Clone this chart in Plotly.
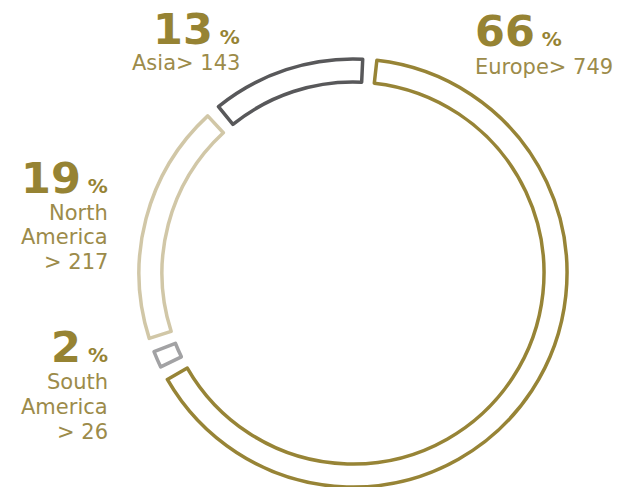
import plotly.graph_objects as go

# ---- data ----
categories = ["Europe", "South America", "North America", "Asia"]
values = [749, 26, 217, 143]
label_templates = [
    ["Europe> {v}"],
    ["South", "America", "> {v}"],
    ["North", "America", "> {v}"],
    ["Asia> {v}"],
]
seg_colors = ["#978436", "#a2a2a4", "#d1c7a7", "#58585a"]

# ---- layout constants ----
W, H = 622, 487
CX, CY, R_OUT, R_IN = 353, 273, 214, 191
GAP_DEG = 3.8
ROT = 4.5
NUM_COLOR = "#968333"
LBL_COLOR = "#9c8b4a"
NUM_FONT = "DejaVu Sans"
LBL_FONT = "DejaVu Sans"
NUM_SIZE = 43
PCT_SIZE = 20
LBL_SIZE = 21

total = sum(values)
pcts = [round(v * 100 / total) for v in values]
g = total * GAP_DEG / 360.0

pie_vals, pie_fill, pie_line, pie_lw = [], [], [], []
pie_vals.append(g / 2); pie_fill.append("rgba(0,0,0,0)"); pie_line.append("rgba(0,0,0,0)"); pie_lw.append(0)
for i, v in enumerate(values):
    pie_vals.append(v - g); pie_fill.append("white"); pie_line.append(seg_colors[i]); pie_lw.append(3.5)
    gv = g if i < len(values) - 1 else g / 2
    pie_vals.append(gv); pie_fill.append("rgba(0,0,0,0)"); pie_line.append("rgba(0,0,0,0)"); pie_lw.append(0)

fig = go.Figure(go.Pie(
    values=pie_vals,
    sort=False,
    direction="clockwise",
    rotation=ROT,
    hole=R_IN / R_OUT,
    textinfo="none",
    hoverinfo="skip",
    showlegend=False,
    marker=dict(colors=pie_fill, line=dict(color=pie_line, width=pie_lw)),
    domain=dict(x=[(CX - R_OUT) / W, (CX + R_OUT) / W],
                y=[1 - (CY + R_OUT) / H, 1 - (CY - R_OUT) / H]),
))

# label placement: (xanchor, block x, number-line cy, label line cys)
place = [
    ("left", 474, 31, [67.5]),
    ("right", 109, 347, [382, 407, 432]),
    ("right", 109, 178, [212.5, 237, 262]),
    ("right", 241, 29, [63.5]),
]

anns = []
def ann(text, px, py, size, xanchor, color):
    anns.append(dict(x=px / W, y=1 - py / H, xref="paper", yref="paper",
                     text=text, showarrow=False,
                     xanchor=xanchor, yanchor="middle", borderpad=0,
                     font=dict(family=LBL_FONT, size=size, color=color)))

for i, (xa, bx, ny, lys) in enumerate(place):
    head = (f"<b>{pcts[i]}</b><span style='font-size:{PCT_SIZE}px'><b> %</b></span>")
    ann(head, bx, ny, NUM_SIZE, xa, NUM_COLOR)
    for line, ly in zip(label_templates[i], lys):
        ann(line.format(v=values[i]), bx, ly, LBL_SIZE, xa, LBL_COLOR)

fig.update_layout(
    width=W, height=H,
    margin=dict(l=0, r=0, t=0, b=0),
    paper_bgcolor="white", plot_bgcolor="white",
    annotations=anns,
)

fig.write_html("out.html", config={"displayModeBar": False},
               post_script="document.body.style.margin='0';")
